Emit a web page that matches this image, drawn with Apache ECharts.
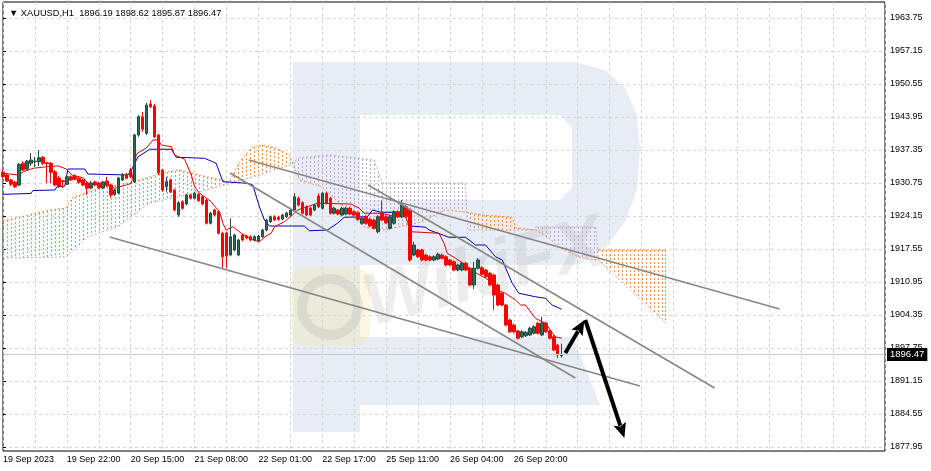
<!DOCTYPE html>
<html><head><meta charset="utf-8">
<script src="https://cdn.jsdelivr.net/npm/echarts@6/dist/echarts.min.js"></script>
<style>html,body{margin:0;padding:0;background:#fff}#c{width:931px;height:471px}</style>
</head><body><div id="c"></div>
<script>
// ---- DATA ----
const titleText = '\u25BC XAUUSD,H1  1896.19 1898.62 1895.87 1896.47';
const timeLabels = ['19 Sep 2023','19 Sep 22:00','20 Sep 15:00','21 Sep 08:00','22 Sep 01:00','22 Sep 17:00','25 Sep 11:00','26 Sep 04:00','26 Sep 20:00'];
const priceTicks = [1877.95,1884.55,1891.15,1897.75,1904.35,1910.95,1917.55,1924.15,1930.75,1937.35,1943.95,1950.55,1957.15,1963.75];
const lastPrice = 1896.47;
// candles: [open, close, low, high], one per H1 bar
const candles = [
[1932.89,1932.01,1931.75,1933.35],[1932.35,1931.15,1930.95,1932.55],[1931.35,1930.50,1930.15,1931.55],[1930.90,1930.00,1929.75,1931.15],
[1930.35,1934.50,1930.15,1934.75],[1934.70,1933.35,1933.15,1935.15],[1933.55,1935.15,1933.35,1935.35],[1934.70,1935.35,1934.15,1936.75],
[1935.00,1935.10,1933.95,1935.95],[1935.00,1935.80,1934.15,1937.35],[1935.90,1934.70,1934.35,1936.15],[1934.80,1934.60,1930.75,1934.95],
[1934.70,1932.90,1930.75,1934.95],[1933.00,1930.35,1930.15,1933.35],[1931.75,1930.15,1929.75,1932.15],[1931.20,1931.00,1929.75,1931.35],
[1930.50,1932.00,1930.35,1932.35],[1932.00,1931.35,1931.15,1932.25],[1932.15,1931.50,1931.30,1932.50],[1931.70,1930.90,1930.60,1932.00],
[1931.35,1930.35,1930.10,1931.60],[1930.75,1929.70,1928.35,1931.00],[1929.75,1930.75,1929.50,1931.15],[1930.95,1930.35,1930.10,1931.20],
[1930.75,1929.80,1929.55,1931.00],[1929.75,1930.95,1929.50,1931.20],[1931.15,1930.20,1929.95,1932.00],[1930.35,1928.35,1927.75,1930.60],
[1928.50,1929.35,1928.15,1929.60],[1928.75,1931.75,1928.50,1932.00],[1931.35,1932.35,1931.15,1932.75],[1932.50,1931.70,1931.50,1932.75],
[1933.35,1932.00,1931.75,1933.75],[1931.00,1940.35,1930.75,1940.60],[1940.35,1944.00,1940.00,1944.35],[1944.00,1941.50,1941.00,1944.95],
[1940.70,1946.35,1940.35,1946.75],[1946.55,1946.00,1945.75,1947.35],[1946.15,1940.00,1939.75,1946.55],[1940.35,1932.75,1932.35,1940.60],
[1933.35,1929.35,1929.00,1933.60],[1930.00,1931.00,1929.00,1932.00],[1931.35,1929.00,1928.75,1931.60],[1929.35,1925.35,1925.10,1929.60],
[1924.35,1926.80,1924.00,1927.10],[1927.00,1925.70,1925.40,1927.30],[1926.55,1928.35,1926.30,1928.60],[1928.35,1927.70,1927.45,1928.60],
[1927.70,1928.70,1927.45,1929.00],[1928.50,1927.20,1927.00,1928.75],[1928.00,1926.55,1926.30,1928.30],[1927.35,1922.70,1922.45,1927.60],
[1922.70,1924.70,1922.45,1925.00],[1925.35,1924.35,1924.10,1925.60],[1925.00,1920.70,1920.45,1925.30],[1920.70,1916.00,1913.80,1921.00],
[1920.75,1916.15,1913.70,1921.00],[1916.35,1920.00,1916.10,1923.70],[1917.35,1920.35,1917.10,1920.60],[1916.35,1919.35,1916.10,1919.60],
[1920.35,1919.35,1919.10,1920.60],[1920.15,1919.75,1919.50,1920.40],[1920.00,1919.35,1919.10,1920.30],[1919.35,1920.00,1919.10,1920.30],
[1919.20,1920.15,1918.90,1920.40],[1920.00,1921.35,1919.75,1921.60],[1921.35,1923.35,1921.10,1923.60],[1923.00,1924.00,1922.75,1924.25],
[1924.00,1923.35,1923.10,1924.30],[1923.90,1923.50,1923.20,1924.20],[1923.55,1924.35,1923.30,1924.60],[1924.00,1924.75,1923.75,1925.00],
[1924.35,1925.35,1924.10,1925.60],[1925.35,1928.00,1925.10,1928.70],[1927.70,1926.35,1926.10,1928.00],[1926.80,1924.70,1924.45,1927.10],
[1926.00,1924.35,1924.10,1926.30],[1925.75,1924.35,1924.10,1926.00],[1925.35,1926.35,1925.10,1926.60],[1928.15,1926.00,1925.75,1928.70],
[1925.70,1928.70,1925.45,1929.00],[1928.70,1926.70,1926.45,1929.00],[1927.70,1924.70,1924.45,1928.00],[1924.70,1925.70,1924.45,1926.00],
[1925.35,1924.55,1924.30,1925.60],[1924.35,1925.70,1924.10,1926.00],[1924.55,1925.70,1924.30,1926.00],[1925.70,1924.55,1924.30,1926.00],
[1925.00,1924.35,1924.10,1925.30],[1924.80,1923.50,1923.20,1925.10],[1922.70,1923.70,1922.45,1924.00],[1924.00,1922.70,1922.45,1924.30],
[1923.50,1922.15,1921.90,1923.80],[1923.35,1921.70,1921.45,1923.60],[1921.00,1924.00,1920.70,1924.30],[1924.75,1923.35,1923.10,1927.20],
[1924.00,1922.80,1922.55,1924.30],[1921.70,1924.00,1921.45,1924.30],[1922.70,1925.00,1922.45,1925.30],[1925.00,1924.00,1923.75,1925.30],
[1924.00,1926.35,1923.75,1927.35],[1926.00,1924.00,1923.75,1926.30],[1925.35,1915.35,1915.00,1925.60],[1916.35,1918.35,1916.10,1919.00],
[1917.35,1916.00,1915.75,1917.60],[1917.35,1915.35,1915.10,1917.60],[1916.35,1915.35,1915.10,1916.60],[1916.00,1915.35,1915.10,1916.30],
[1915.35,1916.00,1915.10,1916.30],[1915.55,1916.50,1915.30,1916.80],[1916.35,1915.70,1915.45,1916.60],[1916.00,1914.35,1914.10,1916.30],
[1915.35,1914.35,1914.10,1915.60],[1915.00,1913.35,1913.10,1915.30],[1913.35,1914.35,1913.10,1914.60],[1913.35,1914.70,1913.10,1915.00],
[1914.70,1913.35,1913.10,1915.00],[1913.70,1910.35,1910.10,1914.00],[1910.35,1913.70,1909.55,1915.00],[1913.70,1915.35,1913.45,1915.70],
[1913.80,1912.50,1912.25,1914.10],[1913.35,1912.00,1911.75,1913.60],[1912.70,1910.35,1910.10,1913.00],[1912.35,1908.35,1905.35,1912.60],
[1910.35,1906.35,1906.10,1910.60],[1908.70,1906.35,1906.10,1909.00],[1906.35,1902.35,1902.10,1906.60],[1903.35,1901.00,1900.75,1903.60],
[1902.35,1901.00,1900.75,1902.60],[1901.15,1899.70,1899.45,1901.40],[1900.00,1901.00,1899.75,1901.30],[1900.20,1900.90,1899.95,1901.15],
[1900.35,1901.70,1900.10,1902.00],[1900.70,1902.00,1900.45,1902.30],[1902.70,1900.70,1900.45,1903.00],[1900.35,1902.75,1900.10,1904.00],
[1902.70,1901.00,1900.75,1903.00],[1901.15,1899.70,1899.45,1901.40],[1900.00,1897.35,1897.10,1900.30],[1898.35,1896.35,1895.75,1898.60],
[1896.19,1896.47,1895.87,1898.62]
];
// Ichimoku lines as [barIndex, price] vertices
const tenkan = [[0,1932.7],[3.8,1932.35],[5.1,1933.0],[7.6,1933.7],[10.9,1934.0],[13.8,1934.15],[15.9,1933.55],[17.2,1932.35],[20.1,1931.8],[21.3,1930.7],[24.25,1930.35],[26.75,1930.35],[28,1929.7],[30.9,1930.35],[32.2,1930.7],[33.4,1936.55],[35.9,1937.75],[37.6,1939.35],[38.8,1939.35],[39.7,1938.35],[42.2,1938.0],[43,1936.35],[45.5,1935.5],[47.2,1932.35],[48,1930.0],[49.25,1928.7],[50.5,1928.0],[52.2,1927.0],[53,1926.15],[54.25,1925.0],[55.1,1922.7],[55.9,1921.35],[57.6,1922.0],[59.7,1920.7],[62.2,1919.5],[64.25,1919.0],[65.9,1920.15],[67.2,1920.7],[68,1922.0],[70.5,1923.0],[73,1924.7],[73.8,1925.35],[78.8,1926.7],[87.2,1926.55],[89.25,1925.7],[90.5,1924.7],[94.7,1924.7],[98.75,1924.0],[100.9,1924.0],[102.2,1921.0],[109.25,1920.7],[110.5,1918.7],[111.3,1916.7],[113.4,1915.7],[115.9,1914.35],[118,1913.0],[120.9,1911.7],[123,1910.7],[123.8,1909.35],[125.9,1908.7],[128.4,1907.35],[129.7,1906.35],[130.9,1906.35],[133.4,1903.7],[135.9,1902.7],[138.4,1900.0],[140,1899.7]];
const kijun = [[0,1928.49],[7,1928.65],[7.5,1929.25],[13,1929.35],[13.5,1930.0],[15.5,1930.15],[16.25,1933.55],[20.5,1933.55],[21.25,1932.55],[31.25,1932.35],[32.2,1933.35],[32.8,1934.35],[33.8,1935.95],[36.75,1937.5],[42.2,1937.5],[43.4,1935.9],[50.5,1935.7],[53.4,1934.7],[55.1,1931.0],[61.3,1930.7],[62.6,1930.35],[64.25,1926.0],[65.5,1923.35],[66.75,1922.15],[75.5,1922.15],[76.75,1921.2],[81.3,1921.35],[83.8,1922.7],[85.5,1923.9],[91.3,1924.0],[92.6,1925.35],[94.7,1924.9],[101.3,1924.9],[102.2,1922.15],[105.9,1921.9],[106.75,1921.35],[111.75,1919.9],[115.9,1919.9],[118.4,1918.35],[120.9,1918.35],[123.4,1916.0],[125.1,1915.35],[127.6,1910.7],[129.25,1908.7],[133.4,1908.0],[135.9,1907.7],[137.6,1906.35],[140,1905.5]];
// Senkou spans (shifted 26 bars forward) as [barIndex, price] vertices
const spanA = [[0,1923.15],[4.25,1923.95],[11.75,1925.35],[15.75,1925.75],[17.25,1927.75],[21.25,1928.95],[24.25,1929.75],[32.5,1930.95],[36.75,1931.95],[41,1932.95],[44.25,1933.35],[49.25,1932.35],[56.75,1930.95],[59.25,1934.95],[62.5,1937.95],[65,1938.35],[68.5,1937.75],[71.75,1936.35],[74.25,1931.35],[80,1929.95],[90.5,1921.95],[95.5,1921.35],[104.75,1922.95],[110.75,1925.35],[116,1924.95],[120,1924.35],[127.5,1923.95],[128.5,1921.75],[133.5,1921.35],[136.75,1919.75],[139.25,1917.95],[144.25,1915.95],[148.5,1915.35],[149.25,1917.35],[166,1917.35]];
const spanB = [[0,1915.75],[15.75,1915.95],[21,1919.95],[28.5,1921.95],[36.75,1926.75],[46,1928.35],[57.5,1930.75],[64.25,1932.35],[71.75,1934.35],[74.25,1935.75],[81.75,1936.35],[93,1935.35],[95,1930.75],[115.75,1930.75],[116.5,1921.35],[133,1921.35],[133.5,1921.95],[148.5,1921.95],[149.25,1915.35],[166,1902.75]];
// hand-drawn analysis objects: [[barIndex, price], [barIndex, price]]
const trendLines = [
  [[61.6,1935.35],[194.6,1905.55]],
  [[91.5,1930.35],[178.3,1889.75]],
  [[56.9,1932.75],[143.4,1891.75]],
  [[26.7,1919.95],[159.6,1890.15]]
];
const arrows = [
  [[140.9,1896.75],[145.7,1903.35]],
  [[145.9,1903.35],[155.7,1879.75]]
];

// ---- CHART ----
const chart = echarts.init(document.getElementById('c'), null, {renderer: 'canvas'});
const FONT = 'Liberation Sans';
const UP_KUMO = '#EC9448', DOWN_KUMO = '#C4A6D0';

function lineAt(line, x) {
  if (x <= line[0][0]) return line[0][1];
  for (let k = 1; k < line.length; k++) {
    if (x <= line[k][0]) {
      const a = line[k-1], b = line[k];
      return a[1] + (b[1]-a[1]) * (x - a[0]) / (b[0] - a[0]);
    }
  }
  return line[line.length-1][1];
}

// kumo hatch: dotted vertical stroke per bar between Span A and Span B (built from 1x2 px dots)
const lastSpanBar = Math.floor(Math.min(spanA[spanA.length-1][0], spanB[spanB.length-1][0]));
function renderCloud(params, api) {
  const up = [], down = [];
  for (let i = 0; i <= lastSpanBar; i++) {
    const a = lineAt(spanA, i), b = lineAt(spanB, i);
    const pa = api.coord([i, a]), pb = api.coord([i, b]);
    const x = Math.round(pa[0]);
    const y1 = Math.round(Math.min(pa[1], pb[1])), y2 = Math.round(Math.max(pa[1], pb[1]));
    const target = a >= b ? up : down;
    for (let y = y1; y < y2; y += 4) {
      target.push({type: 'rect', shape: {x: x, y: y, width: 1, height: Math.min(2, y2 - y)}});
    }
  }
  return {type: 'group', children: [
    {type: 'group', children: up.map(r => Object.assign(r, {style: {fill: UP_KUMO}}))},
    {type: 'group', children: down.map(r => Object.assign(r, {style: {fill: DOWN_KUMO}}))}
  ]};
}

function renderArrow(params, api) {
  const a = arrows[api.value(0)];
  const p0 = api.coord(a[0]), p1 = api.coord(a[1]);
  const dx = p1[0]-p0[0], dy = p1[1]-p0[1], L = Math.hypot(dx, dy);
  const ux = dx/L, uy = dy/L, nx = -uy, ny = ux;
  const hl = 15, hw = 6.5;
  const base = [p1[0]-ux*hl, p1[1]-uy*hl];
  return {type: 'group', children: [
    {type: 'line', shape: {x1: p0[0], y1: p0[1], x2: base[0]+ux*2, y2: base[1]+uy*2}, style: {stroke: '#000', lineWidth: 4}},
    {type: 'polygon', shape: {points: [p1, [base[0]+nx*hw, base[1]+ny*hw], [base[0]+ux*3, base[1]+uy*3], [base[0]-nx*hw, base[1]-ny*hw]]}, style: {fill: '#000'}}
  ]};
}

const series = [];
series.push({type: 'custom', name: 'Kumo', renderItem: renderCloud, data: [[0]], z: 1, silent: true, clip: true});
series.push({type: 'line', name: 'Senkou A', data: spanA, symbol: 'none', lineStyle: {color: UP_KUMO, width: 1, type: [2,2]}, z: 2, silent: true});
series.push({type: 'line', name: 'Senkou B', data: spanB, symbol: 'none', lineStyle: {color: DOWN_KUMO, width: 1, type: [2,2]}, z: 2, silent: true});
series.push({type: 'line', name: 'Kijun', data: kijun, symbol: 'none', lineStyle: {color: '#0000B4', width: 1}, z: 3, silent: true});
series.push({type: 'line', name: 'Tenkan', data: tenkan, symbol: 'none', lineStyle: {color: '#E00000', width: 1}, z: 3, silent: true});
series.push({
  type: 'candlestick', name: 'XAUUSD', z: 4,
  data: candles.map((c, i) => [i, c[0], c[1], c[2], c[3]]),
  barWidth: 3,
  itemStyle: {color: '#2F6D5A', color0: '#FF0000', borderColor: '#1F4A3D', borderColor0: '#FF0000', borderWidth: 1},
  markLine: {
    symbol: 'none', silent: true, animation: false,
    lineStyle: {color: '#C8C8C8', width: 1, type: 'solid'},
    label: {show: true, position: 'end', distance: 2, formatter: lastPrice.toFixed(2), backgroundColor: '#000', color: '#fff', padding: [2, 3, 1, 3], fontFamily: FONT, fontSize: 9.5},
    data: [{yAxis: lastPrice}]
  }
});
trendLines.forEach((tl, k) => series.push({
  type: 'line', name: 'trend' + k, data: tl, symbol: 'none', z: 5, silent: true,
  lineStyle: {color: '#868686', width: 1.5}
}));
series.push({type: 'custom', name: 'arrows', renderItem: renderArrow, data: arrows.map((a, k) => [k]), z: 6, silent: true, clip: false});

const option = {
  animation: false,
  backgroundColor: '#fff',
  textStyle: {fontFamily: FONT},
  title: {text: titleText, left: 4, top: 4, textStyle: {fontSize: 9.3, fontWeight: 'normal', color: '#000', fontFamily: FONT}},
  grid: {left: 3, right: 46, top: 2, bottom: 20, show: true, borderColor: '#000', borderWidth: 1, backgroundColor: 'transparent'},
  xAxis: {
    type: 'value', min: 0, max: 221, interval: 8,
    axisLine: {show: false}, axisTick: {show: false},
    axisLabel: {
      show: true, color: '#000', fontSize: 9, fontFamily: FONT, margin: 4, align: 'left', showMaxLabel: false,
      formatter: (v) => (v % 16 === 0 && v / 16 < timeLabels.length) ? timeLabels[v / 16] : ''
    },
    splitLine: {show: true, lineStyle: {color: '#D4D4D4', type: [3, 3], width: 1}}
  },
  yAxis: {
    type: 'value', position: 'right', min: 1877.15, max: 1966.95, scale: true,
    axisLine: {show: false},
    axisTick: {show: true, length: 3, lineStyle: {color: '#000'}, customValues: priceTicks},
    axisLabel: {show: true, color: '#000', fontSize: 9, fontFamily: FONT, margin: 5, customValues: priceTicks, formatter: v => v.toFixed(2)},
    splitLine: {show: true, lineStyle: {color: '#D4D4D4', type: [3, 3], width: 1}}
  },
  graphic: {elements: [
    // RoboForex "R" watermark
    {type: 'polygon', z: -10, silent: true, shape: {points: [[293,62],[575,62],[605,70],[625,88],[637,115],[640,150],[637,190],[625,222],[605,248],[578,265],[360,265],[360,337],[573,337],[600,405],[360,405],[360,432],[293,432]]}, style: {fill: '#E8EDF5'}},
    {type: 'polygon', z: -9, silent: true, shape: {points: [[360,115],[560,115],[572,128],[572,188],[560,200],[360,200]]}, style: {fill: '#ffffff'}},
    // WikiFX watermark
    {type: 'rect', z: -8, silent: true, shape: {x: 290, y: 268, width: 80, height: 78, r: 14}, style: {fill: 'rgba(245,225,150,0.28)'}},
    {type: 'circle', z: -7, silent: true, shape: {cx: 330, cy: 307, r: 28}, style: {fill: 'none', stroke: 'rgba(150,150,150,0.18)', lineWidth: 10}},
    {type: 'text', z: -7, silent: true, x: 375, y: 342, rotation: 0.26, style: {text: 'WikiFX', fill: 'rgba(150,150,150,0.17)', font: 'italic bold 74px "Liberation Sans"', textVerticalAlign: 'bottom'}}
  ]},
  series
};
chart.setOption(option);
</script></body></html>
